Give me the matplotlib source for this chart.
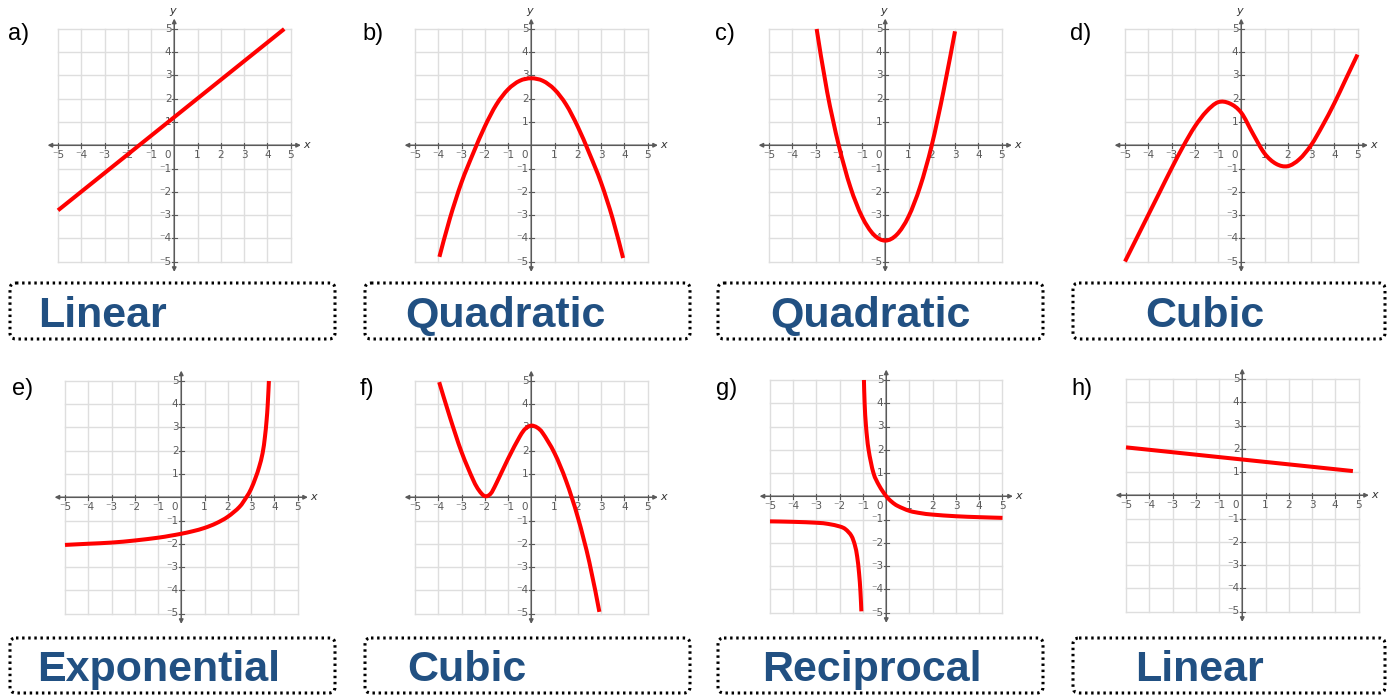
"""
Function families worksheet: eight small graphs with name boxes.
"""
import matplotlib
matplotlib.use("Agg")
import matplotlib.pyplot as plt
from matplotlib.patches import FancyBboxPatch, PathPatch
from matplotlib.path import Path

# ---- data ----------------------------------------------------------------
lin_a_x = [-5.0, 4.73]
lin_a_y = [-2.8, 5.0]

quad_b_x = [-3.95, -3.5, -3.0, -2.5, -2.0, -1.5, -1.0, -0.5, 0.0,
            0.5, 1.0, 1.5, 2.0, 2.5, 3.0, 3.5, 3.95]
quad_b_y = [-4.8, -3.15, -1.6, -0.35, 0.8, 1.75, 2.4, 2.77, 2.88,
            2.77, 2.4, 1.75, 0.8, -0.35, -1.6, -3.15, -4.85]

quad_c_x = [-2.95, -2.5, -2.0, -1.5, -1.0, -0.5, 0.0, 0.5, 1.0, 1.5, 2.0, 2.5, 3.0]
quad_c_y = [5.0, 2.3, 0.0, -1.8, -3.07, -3.84, -4.1, -3.84, -3.07, -1.78, 0.0, 2.3, 4.9]

cub_d_x = [-5.0, -4.5, -4.0, -3.5, -3.0, -2.5, -2.0, -1.5, -1.0, -0.5, 0.0,
           0.5, 1.0, 1.5, 2.0, 2.5, 3.0, 3.5, 4.0, 4.5, 5.0]
cub_d_y = [-5.0, -4.0, -3.0, -2.0, -1.0, -0.05, 0.8, 1.45, 1.85, 1.8, 1.4,
           0.5, -0.35, -0.8, -0.9, -0.6, 0.0, 0.85, 1.8, 2.85, 3.9]

exp_e_x = [-5.0, -4.0, -3.0, -2.0, -1.0, -0.5, 0.0, 0.5, 1.0, 1.5, 2.0, 2.5,
           2.8, 3.0, 3.2, 3.35, 3.5, 3.6, 3.67, 3.72, 3.77]
exp_e_y = [-2.05, -2.0, -1.95, -1.86, -1.74, -1.66, -1.57, -1.46, -1.32, -1.12,
           -0.84, -0.42, 0.0, 0.35, 0.85, 1.3, 1.9, 2.6, 3.3, 4.0, 5.0]

cub_f_x = [-3.96, -3.5, -3.0, -2.5, -2.25, -2.0, -1.75, -1.5, -1.0, -0.5, -0.25,
           0.0, 0.25, 0.5, 1.0, 1.5, 2.0, 2.5, 2.93]
cub_f_y = [4.95, 3.45, 1.95, 0.75, 0.3, 0.05, 0.15, 0.6, 1.65, 2.6, 2.95,
           3.08, 3.0, 2.75, 1.9, 0.7, -0.85, -2.8, -4.93]

rec_g_right_x = [-0.96, -0.93, -0.87, -0.76, -0.55, -0.3, 0.0, 0.25, 0.5,
                 1.0, 1.5, 2.0, 3.0, 4.0, 5.0]
rec_g_right_y = [5.0, 4.0, 3.0, 2.0, 1.0, 0.45, 0.0, -0.25, -0.42,
                 -0.63, -0.73, -0.79, -0.86, -0.9, -0.93]
rec_g_left_x = [-5.0, -4.0, -3.0, -2.5, -2.0, -1.75, -1.5, -1.35, -1.25,
                -1.17, -1.11, -1.07]
rec_g_left_y = [-1.08, -1.1, -1.14, -1.19, -1.3, -1.42, -1.7, -2.1, -2.6,
                -3.3, -4.1, -4.95]

lin_h_x = [-5.0, 4.76]
lin_h_y = [2.06, 1.04]

panel_letters = ["a)", "b)", "c)", "d)", "e)", "f)", "g)", "h)"]
family_names = ["Linear", "Quadratic", "Quadratic", "Cubic",
                "Exponential", "Cubic", "Reciprocal", "Linear"]

# ---- figure ---------------------------------------------------------------
W, H = 1387, 695
fig = plt.figure(figsize=(W / 100, H / 100), dpi=100)
fig.patch.set_facecolor("white")

# pixel overlay for boxes and labels
ov = fig.add_axes([0, 0, 1, 1])
ov.set_xlim(0, W)
ov.set_ylim(H, 0)
ov.axis("off")

RED = "#ff0000"
GRID = "#dedede"
AXC = "#5a5a5a"
BLUE = "#215082"
U = 23.25  # px per unit


def make_panel(L, T, show_y=True):
    left, right = L - 0.8 * U, L + 10.8 * U
    top, bottom = T - 0.8 * U, T + 10.8 * U
    ax = fig.add_axes([left / W, 1 - bottom / H, (right - left) / W, (bottom - top) / H])
    ax.set_xlim(-5.8, 5.8)
    ax.set_ylim(-5.8, 5.8)
    ax.axis("off")
    for v in range(-5, 6):
        ax.plot([v, v], [-5, 5], color=GRID, lw=1.0, zorder=1)
        ax.plot([-5, 5], [v, v], color=GRID, lw=1.0, zorder=1)
    ax.annotate("", xy=(5.45, 0), xytext=(-5.45, 0),
                arrowprops=dict(arrowstyle="<|-|>", color=AXC, lw=1.1,
                                mutation_scale=6, shrinkA=0, shrinkB=0), zorder=2)
    ax.annotate("", xy=(0, 5.45), xytext=(0, -5.45),
                arrowprops=dict(arrowstyle="<|-|>", color=AXC, lw=1.1,
                                mutation_scale=6, shrinkA=0, shrinkB=0), zorder=2)
    for v in range(-5, 6):
        if v == 0:
            continue
        lab = ("\u207b" + str(-v)) if v < 0 else str(v)
        ax.plot([v, v], [-0.1, 0.1], color=AXC, lw=0.8, zorder=2)
        ax.plot([-0.1, 0.1], [v, v], color=AXC, lw=0.8, zorder=2)
        ax.text(v, -0.22, lab, ha="center", va="top", fontsize=7.5, color=AXC, zorder=3)
        ax.text(-0.12, v, lab, ha="right", va="center", fontsize=7.5, color=AXC, zorder=3)
    ax.text(-0.15, -0.22, "0", ha="right", va="top", fontsize=7.5, color=AXC, zorder=3)
    ax.text(5.55, 0, "x", ha="left", va="center", fontsize=8, style="italic", color="#333333")
    if show_y:
        ax.text(-0.05, 5.55, "y", ha="center", va="bottom", fontsize=8, style="italic", color="#333333")
    return ax


def curve(ax, xs, ys):
    # smooth Catmull-Rom style path through the read points
    pts = list(zip(xs, ys))
    n = len(pts)
    verts = [pts[0]]
    codes = [Path.MOVETO]
    for i in range(n - 1):
        p0 = pts[i - 1] if i > 0 else pts[i]
        p1 = pts[i]
        p2 = pts[i + 1]
        p3 = pts[i + 2] if i + 2 < n else pts[i + 1]
        c1 = (p1[0] + (p2[0] - p0[0]) / 6, p1[1] + (p2[1] - p0[1]) / 6)
        c2 = (p2[0] - (p3[0] - p1[0]) / 6, p2[1] - (p3[1] - p1[1]) / 6)
        verts += [c1, c2, p2]
        codes += [Path.CURVE4] * 3
    ax.add_patch(PathPatch(Path(verts, codes), fill=False, edgecolor=RED, lw=2.9,
                           capstyle="butt", joinstyle="round", zorder=4, clip_on=False))


panel_pos = [(58, 29), (415, 29), (769, 29), (1125, 29),
             (65, 381), (415, 381), (770, 380), (1126, 379)]
axes = [make_panel(L, T, show_y=(i < 4)) for i, (L, T) in enumerate(panel_pos)]

curve(axes[0], lin_a_x, lin_a_y)
curve(axes[1], quad_b_x, quad_b_y)
curve(axes[2], quad_c_x, quad_c_y)
curve(axes[3], cub_d_x, cub_d_y)
curve(axes[4], exp_e_x, exp_e_y)
curve(axes[5], cub_f_x, cub_f_y)
curve(axes[6], rec_g_right_x, rec_g_right_y)
curve(axes[6], rec_g_left_x, rec_g_left_y)
curve(axes[7], lin_h_x, lin_h_y)

# panel letters
letter_pos = [(8, 34), (362, 34), (715, 34), (1070, 34),
              (12, 389), (360, 389), (716, 389), (1071, 389)]
for (x, y), s in zip(letter_pos, panel_letters):
    ov.text(x, y, s, ha="left", va="center", fontsize=17,
            family="Liberation Sans", color="black")

# dotted name boxes
box_x = [(10, 335), (365, 690), (718, 1043), (1073, 1385)]
box_rows = [(283, 339), (638, 693)]
text_left = [38, 405, 770, 1145, 37, 407, 762, 1135]
baselines = [327, 681]
for i, name in enumerate(family_names):
    r, c = divmod(i, 4)
    x0, x1 = box_x[c]
    y0, y1 = box_rows[r]
    ov.add_patch(FancyBboxPatch((x0, y0), x1 - x0, y1 - y0,
                                boxstyle="round,pad=0,rounding_size=6",
                                fill=False, edgecolor="black", lw=2.2,
                                linestyle=(0, (0.8, 1.2))))
    ov.text(text_left[i], baselines[r], name, ha="left", va="baseline",
            fontsize=31, fontweight="bold", family="Liberation Sans", color=BLUE)

fig.savefig("out.png", dpi=100)
plt.close()
